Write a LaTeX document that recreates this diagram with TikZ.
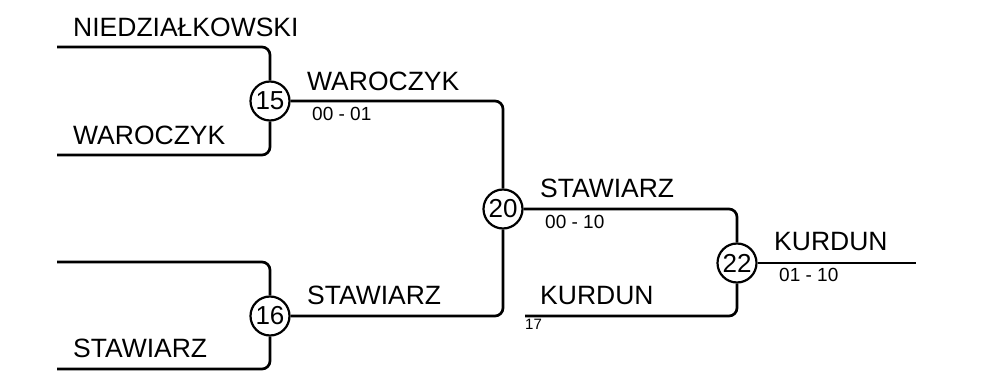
\documentclass[tikz,border=0pt]{standalone}
\usepackage{fontspec}
\setmainfont{Liberation Sans}
\begin{document}
\begin{tikzpicture}[x=1pt,y=-1pt,
  bline/.style={line width=2.7pt, rounded corners=8pt},
  gamecircle/.style={circle, draw, line width=2.2pt, minimum size=39pt, inner sep=0pt, fill=white,
    font=\fontsize{26}{26}\selectfont},
  plname/.style={anchor=base west, inner sep=0pt, font=\fontsize{26.5}{30}\selectfont},
  plscore/.style={anchor=base west, inner sep=0pt, font=\fontsize{19}{22}\selectfont},
  plsmall/.style={anchor=base west, inner sep=0pt, font=\fontsize{15}{16}\selectfont}]
\useasboundingbox (0,0) rectangle (994,371);
% games
\node[gamecircle] (c15) at (270,101) {15};
\node[gamecircle] (c16) at (270,316) {16};
\node[gamecircle] (c20) at (503,209) {20};
\node[gamecircle] (c22) at (737,263) {22};
% free ends
\coordinate (a1) at (57,47);
\coordinate (a2) at (57,155);
\coordinate (b1) at (57,262);
\coordinate (b2) at (57,369);
\coordinate (k17) at (525,316);
\coordinate (fin) at (916,263);
% connectors
\draw[bline] (a1) -| (c15);
\draw[bline] (a2) -| (c15);
\draw[bline] (b1) -| (c16);
\draw[bline] (b2) -| (c16);
\draw[bline] (c15) -| (c20);
\draw[bline] (c16) -| (c20);
\draw[bline] (c20) -| (c22);
\draw[bline] (k17) -| (c22);
\draw[bline] (c22) -- (fin);
% labels
\node[plname] (t1) at (73,37) {NIEDZIAŁKOWSKI};
\node[plname] (t2) at (73,145) {WAROCZYK};
\node[plname] (t3) at (73,358) {STAWIARZ};
\node[plname] (t4) at (307,91) {WAROCZYK};
\node[plscore] (s4) at (312,121) {00 - 01};
\node[plname] (t5) at (307,305) {STAWIARZ};
\node[plname] (t6) at (540,198) {STAWIARZ};
\node[plscore] (s6) at (545,229) {00 - 10};
\node[plname] (t7) at (540,305) {KURDUN};
\node[plsmall] (s7) at (525,330) {17};
\node[plname] (t8) at (774,251) {KURDUN};
\node[plscore] (s8) at (779,282) {01 - 10};
\end{tikzpicture}
\end{document}
